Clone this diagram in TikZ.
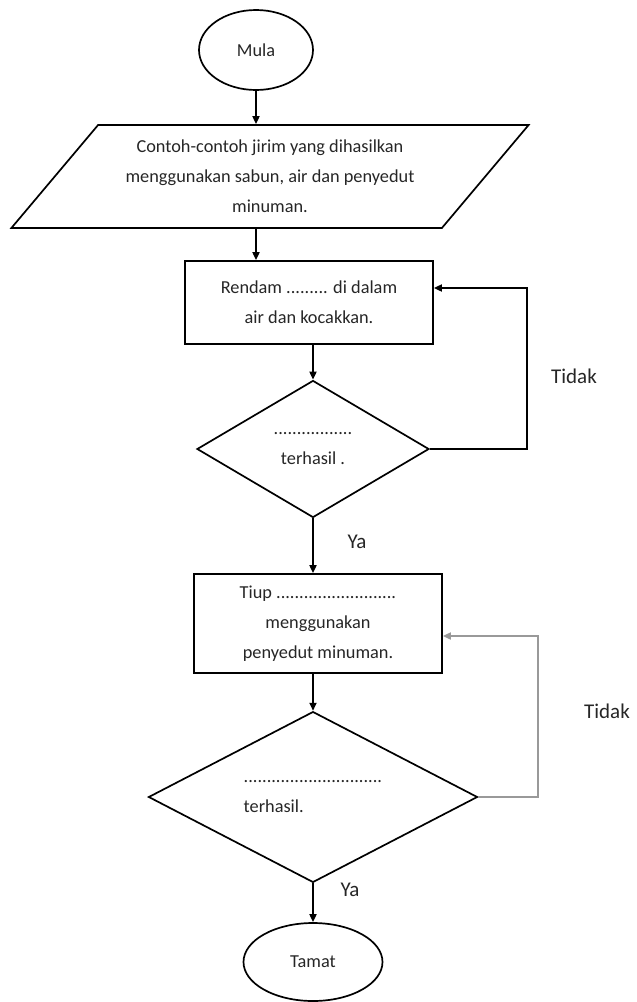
\documentclass[tikz,border=0pt]{standalone}
\usepackage{fontspec}
\setmainfont{Carlito}
\usetikzlibrary{shapes.geometric,arrows.meta}
\begin{document}
\begin{tikzpicture}[
      x=1pt, y=-1pt,
      font=\fontsize{18.3}{30}\selectfont,
      box/.style={draw=black,line width=1.7pt,text=black!85,align=center,inner sep=0pt},
      term/.style={box,ellipse},
      io/.style={box,trapezium,trapezium left angle=45,trapezium right angle=135,
        trapezium stretches,minimum width=520pt,minimum height=103pt},
      proc/.style={box,rectangle,minimum width=248pt},
      test/.style={box,diamond},
      arr/.style={line width=1.7pt,draw=black,-{Triangle[length=8pt,width=7pt]}},
      back/.style={arr,draw=black!40},
      lbl/.style={text=black!85,font=\fontsize{21}{25}\selectfont},
      ]
      \useasboundingbox (0,0) rectangle (637,1002);
      \node[term,minimum width=114pt,minimum height=80pt] (mula) at (256,50) {Mula};
      \node[io] (in) at (270,176.5) {Contoh-contoh jirim yang dihasilkan\\
        menggunakan sabun, air dan penyedut\\ minuman.};
      \node[proc,minimum height=83pt] (rendam) at (309,302.5)
        {Rendam ......... di dalam\\ air dan kocakkan.};
      \node[test,minimum width=232pt,minimum height=137pt] (d1) at (313,449)
        {.................\\ terhasil .};
      \node[proc,minimum height=99pt] (tiup) at (318,623.5)
        {Tiup ..........................\\ menggunakan\\ penyedut minuman.};
      \node[test,align=left,minimum width=329pt,minimum height=136pt] (d2) at (313,797)
        {..............................\\ terhasil.};
      \node[term,minimum width=139pt,minimum height=78pt] (tamat) at (313,962) {Tamat};
      \coordinate (r1) at (527,288);
      \coordinate (r2) at (538,636);
      \node[lbl] (ya1) at (357,542) {Ya};
      \node[lbl] (ya2) at (350,890) {Ya};
      \node[lbl] (tidak1) at (574,376) {Tidak};
      \node[lbl] (tidak2) at (607,711) {Tidak};
      \draw[arr] (mula.south) -- (mula.south |- in.north);
      \draw[arr] (mula.south |- in.south) -- (mula.south |- rendam.north);
      \draw[arr] (d1.north |- rendam.south) -- (d1.north);
      \draw[arr] (d1.east) -| (r1) -- (r1 -| rendam.east);
      \draw[arr] (d1.south) -- (d1.south |- tiup.north);
      \draw[arr] (d2.north |- tiup.south) -- (d2.north);
      \draw[back] (d2.east) -| (r2) -- (r2 -| tiup.east);
      \draw[arr] (d2.south) -- (tamat.north);
\end{tikzpicture}
\end{document}
